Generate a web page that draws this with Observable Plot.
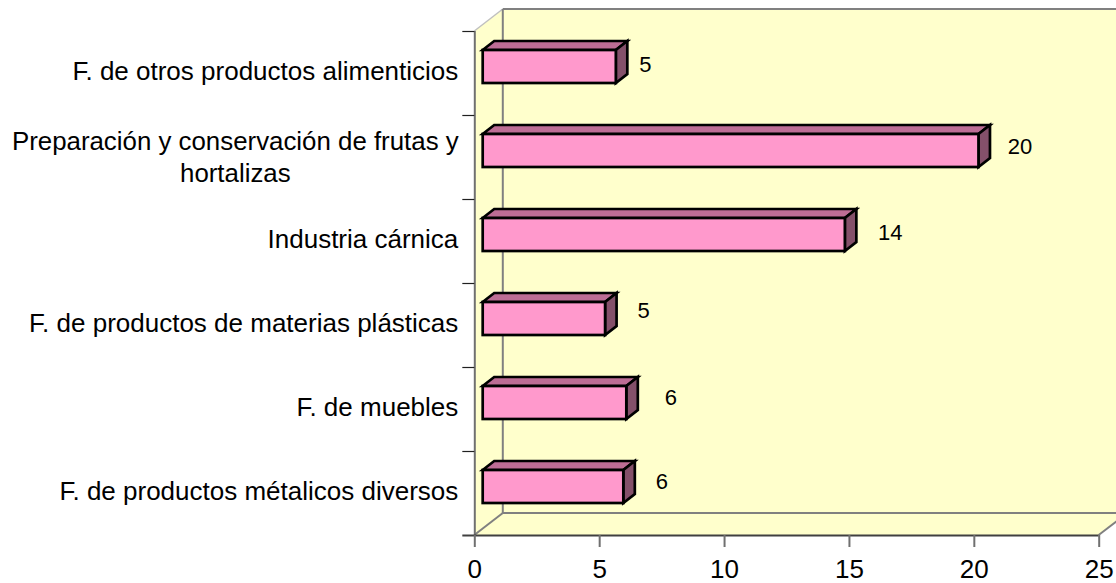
<!DOCTYPE html>
<html>
<head>
<meta charset="utf-8">
<script src="https://cdn.jsdelivr.net/npm/d3@7"></script>
<script src="https://cdn.jsdelivr.net/npm/@observablehq/plot@0.6"></script>
<style>
html,body{margin:0;padding:0;background:#fff;overflow:hidden}
svg{display:block}
</style>
</head>
<body>
<div id="chart"></div>
<script>
const categories = [
  "F. de otros productos alimenticios",
  "Preparación y conservación de frutas y\nhortalizas",
  "Industria cárnica",
  "F. de productos de materias plásticas",
  "F. de muebles",
  "F. de productos métalicos diversos"
];
const values = [5.33, 19.85, 14.5, 4.9, 5.75, 5.63];
const valueLabels = ["5", "20", "14", "5", "6", "6"];
const xTicks = [0, 5, 10, 15, 20, 25];

const rows = categories.map((name, i) => ({name, value: values[i], label: valueLabels[i]}));

// 3-D look (pixels)
const wallDX = 28.5, wallDY = 22;
const barShift = 8.4, barDX = 11.5, barDY = 9;
// placement of each value label relative to the bar end
const labelNudge = [[29, -9], [41, -11], [45, -9], [38, -15], [44, -12], [38, -12]];

const walls = (index, scales, values, d) => {
  const l = d.marginLeft, r = d.width - d.marginRight, t = d.marginTop, b = d.height - d.marginBottom;
  const g = d3.create("svg:g");
  const poly = (pts, fill) => g.append("polygon").attr("points", pts.join(" ")).attr("fill", fill);
  poly([[l, t], [l + wallDX, t - wallDY], [l + wallDX, b - wallDY], [l, b]], "#FFFFCC");
  poly([[l, b], [l + wallDX, b - wallDY], [r + wallDX, b - wallDY], [r, b]], "#FFFFCC");
  poly([[l + wallDX, t - wallDY], [r + wallDX, t - wallDY], [r + wallDX, b - wallDY], [l + wallDX, b - wallDY]], "#FFFFCC");
  const line = (a, c, col, w) => g.append("line").attr("x1", a[0]).attr("y1", a[1]).attr("x2", c[0]).attr("y2", c[1]).attr("stroke", col).attr("stroke-width", w);
  line([l, t], [l + wallDX, t - wallDY], "#c0c0c0", 1.5);
  line([l + wallDX, t - wallDY], [r + wallDX, t - wallDY], "#808080", 2);
  line([l + wallDX, t - wallDY], [l + wallDX, b - wallDY], "#808080", 2);
  line([l + wallDX, b - wallDY], [r + wallDX, b - wallDY], "#808080", 2);
  line([l, b], [l + wallDX, b - wallDY], "#808080", 2);
  line([r, b], [r + wallDX, b - wallDY], "#808080", 2);
  return g.node();
};

const bar3d = (index, scales, vals, dims, ctx, next) => {
  const g = next(index, scales, vals, dims, ctx);
  d3.select(g).selectAll("rect").each(function () {
    const x = +this.getAttribute("x"), y = +this.getAttribute("y");
    const w = +this.getAttribute("width"), h = +this.getAttribute("height");
    const add = (pts, fill) => {
      const p = document.createElementNS("http://www.w3.org/2000/svg", "polygon");
      p.setAttribute("points", pts.join(" "));
      p.setAttribute("fill", fill);
      p.setAttribute("stroke-linejoin", "miter");
      this.parentNode.insertBefore(p, this);
    };
    add([[x, y], [x + barDX, y - barDY], [x + w + barDX, y - barDY], [x + w, y]], "#BD6D95");
    add([[x + w, y], [x + w + barDX, y - barDY], [x + w + barDX, y + h - barDY], [x + w, y + h]], "#84506A");
  });
  return g;
};

const singleLine = rows.filter(d => !d.name.includes("\n"));
const wrapped = rows.filter(d => d.name.includes("\n"));

const chart = Plot.plot({
  width: 1116,
  height: 583,
  marginLeft: 474.3,
  marginRight: 17.3,
  marginTop: 31,
  marginBottom: 48,
  style: {fontFamily: "'Liberation Sans', Arial, sans-serif", background: "#fff", overflow: "hidden"},
  x: {domain: [0, 25], label: null},
  y: {domain: categories, padding: 0, label: null, axis: null},
  marks: [
    walls,
    // left axis with ticks on the band edges
    Plot.ruleX([0], {stroke: "#707070", strokeWidth: 2}),
    Plot.ruleY(categories, {y: d => d, x1: -0.48, x2: 0, dy: -42, stroke: "#202020", strokeWidth: 1.2}),
    Plot.ruleY(categories.slice(-1), {y: d => d, x1: -0.48, x2: 25, dy: 42, stroke: "#404040", strokeWidth: 2}),
    Plot.axisX({
      ticks: xTicks, tickSize: 12, tickPadding: 12, label: null, fontSize: 26,
      stroke: "#707070", strokeWidth: 2, tickFormat: d => d, fill: "#000"
    }),
    Plot.barX(rows, {
      x: "value", y: "name", dx: barShift, insetTop: 19, insetBottom: 32,
      fill: "#FF99CC", stroke: "#000", strokeWidth: 2.7, render: bar3d
    }),
    ...rows.map((d, i) => Plot.text([d], {
      x: "value", y: "name", text: "label", dx: barShift + barDX + labelNudge[i][0] - 11.5, dy: labelNudge[i][1],
      fontSize: 22, fill: "#000", textAnchor: "middle"
    })),
    Plot.text(singleLine, {
      x: () => 0, y: "name", text: "name", dx: -16.5, dy: -2,
      textAnchor: "end", fontSize: 26, fill: "#000"
    }),
    Plot.text(wrapped, {
      x: () => 0, y: "name", text: "name", dx: -239.5, dy: -1.5,
      textAnchor: "middle", lineHeight: 1.23, fontSize: 25.85, fill: "#000"
    })
  ]
});
document.getElementById("chart").append(chart);
</script>
</body>
</html>
